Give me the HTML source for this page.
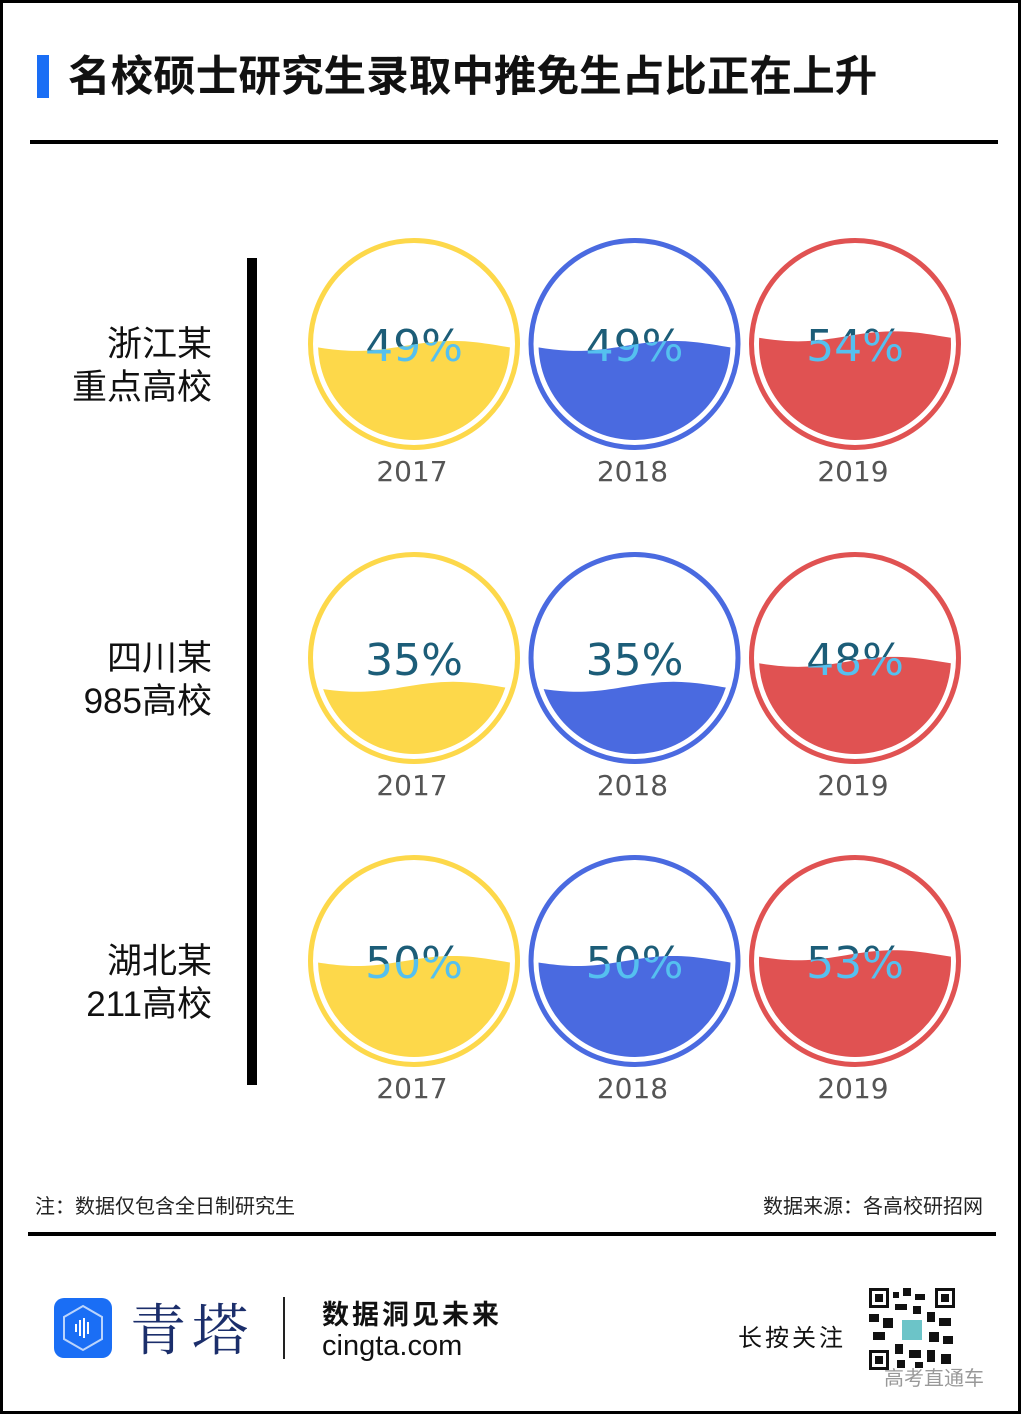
<!DOCTYPE html>
<html><head><meta charset="utf-8"><style>
html,body{margin:0;padding:0;background:#fff}
body{width:1021px;height:1414px;position:relative;overflow:hidden;font-family:"Liberation Sans","Noto Sans CJK SC",sans-serif}
.abs{position:absolute}
</style></head><body>
<div class="abs" style="left:0;top:0;width:1015px;height:1408px;border:3px solid #000"></div>
<div class="abs" style="left:37px;top:55px;width:12px;height:43px;background:#1a6ef5"></div>
<div class="abs" style="left:68px;top:49px;font-size:42.6px;font-weight:bold;color:#111;white-space:nowrap;line-height:56px">名校硕士研究生录取中推免生占比正在上升</div>
<div class="abs" style="left:30px;top:140px;width:968px;height:4px;background:#000"></div>
<svg class="abs" id="chart" style="left:0;top:0" width="1021" height="1180"></svg>
<div class="abs" style="left:35px;top:1190px;font-size:20px;color:#222">注：数据仅包含全日制研究生</div>
<div class="abs" style="right:38px;top:1190px;font-size:20px;color:#222">数据来源：各高校研招网</div>
<div class="abs" style="left:28px;top:1232px;width:968px;height:4px;background:#000"></div>
<div class="abs" style="left:54px;top:1298px;width:58px;height:60px;border-radius:10px;background:#1a6ef5">
<svg width="58" height="60"><polygon points="29,8 48,19 48,41 29,52 10,41 10,19" fill="none" stroke="#fff" stroke-opacity=".7" stroke-width="2"/><g stroke="#fff" stroke-width="2"><line x1="22" y1="26" x2="22" y2="34"/><line x1="26" y1="22" x2="26" y2="38"/><line x1="30" y1="20" x2="30" y2="40"/><line x1="34" y1="24" x2="34" y2="36"/></g></svg></div>
<div class="abs" style="left:130px;top:1292px;font-size:56px;color:#1b2e6b;font-family:'Noto Serif CJK SC',serif;letter-spacing:6px;line-height:70px">青塔</div>
<div class="abs" style="left:283px;top:1297px;width:2px;height:62px;background:#222"></div>
<div class="abs" style="left:322px;top:1293px;font-size:27px;font-weight:bold;color:#111;letter-spacing:3px">数据洞见未来</div>
<div class="abs" style="left:322px;top:1330px;font-size:29px;color:#111">cingta.com</div>
<div class="abs" style="left:738px;top:1318px;font-size:24px;color:#111;letter-spacing:3px">长按关注</div>
<svg class="abs" style="left:869px;top:1288px" width="86" height="82">
<rect width="86" height="82" fill="#fff"/>
<g fill="#111">
<rect x="0" y="0" width="20" height="20"/><rect x="66" y="0" width="20" height="20"/><rect x="0" y="62" width="20" height="20"/>
<rect x="24" y="4" width="6" height="6"/><rect x="34" y="0" width="8" height="8"/><rect x="46" y="6" width="10" height="6"/><rect x="26" y="16" width="12" height="6"/><rect x="44" y="18" width="8" height="8"/><rect x="58" y="24" width="8" height="10"/><rect x="0" y="26" width="10" height="8"/><rect x="14" y="30" width="10" height="10"/><rect x="70" y="30" width="12" height="8"/><rect x="4" y="44" width="12" height="8"/><rect x="60" y="44" width="10" height="10"/><rect x="74" y="48" width="10" height="8"/><rect x="26" y="56" width="8" height="10"/><rect x="40" y="62" width="12" height="8"/><rect x="58" y="62" width="8" height="12"/><rect x="72" y="66" width="10" height="10"/><rect x="28" y="72" width="8" height="8"/><rect x="46" y="74" width="8" height="6"/>
</g>
<g fill="#fff"><rect x="3" y="3" width="14" height="14"/><rect x="69" y="3" width="14" height="14"/><rect x="3" y="65" width="14" height="14"/></g>
<g fill="#111"><rect x="6" y="6" width="8" height="8"/><rect x="72" y="6" width="8" height="8"/><rect x="6" y="68" width="8" height="8"/></g>
<rect x="33" y="32" width="20" height="20" fill="#6cc4c8"/>
</svg>
<div class="abs" style="left:884px;top:1362px;font-size:20px;color:#999">高考直通车</div>
<script>
const rows = ["浙江某\n重点高校","四川某\n985高校","湖北某\n211高校"];
const years = ["2017","2018","2019"];
const values = [[49,49,54],[35,35,48],[50,50,53]];
const colors = ["#fdd84a","#4a6ae0","#e05252"];
const NS="http://www.w3.org/2000/svg";
const svg=document.getElementById('chart');
const colX = i => 414 + i*220.5;
const rowY = j => [344,658,961][j];
const R=106, r=96;
const levelY = (cy,p) => cy + r*(1 - 2*p/100);
function mk(t,a){const e=document.createElementNS(NS,t);for(const k in a)e.setAttribute(k,a[k]);svg.appendChild(e);return e;}
const axis=mk('rect',{x:247,y:258,width:10,height:827,fill:'#000'});


const defs=mk('defs',{});
rows.forEach((lab,j)=>{
  const lines=lab.split('\n');
  lines.forEach((ln,k)=>{
    const t=mk('text',{x:212,y:rowY(j)+12+k*43,'text-anchor':'end','font-size':35,fill:'#111'});
    t.textContent=ln;
    
    
  });
  years.forEach((yr,i)=>{
    const cx=colX(i), cy=rowY(j), v=values[j][i], col=colors[i];
    const ly=levelY(cy,v);
    const id='c'+j+'_'+i;
    const cp=document.createElementNS(NS,'clipPath');cp.setAttribute('id',id);
    let d='M'+(cx-r-5)+','+ly;
    for(let x=-r-5;x<=r+5;x+=4){d+=' L'+(cx+x)+','+(ly+5*Math.sin((x+r)/(2*r)*2*Math.PI+0.3));}
    d+=' L'+(cx+r+5)+','+(cy+r+5)+' L'+(cx-r-5)+','+(cy+r+5)+' Z';
    const p=document.createElementNS(NS,'path');p.setAttribute('d',d);cp.appendChild(p);defs.appendChild(cp);
    const ring=mk('circle',{cx:cx,cy:cy,r:R-2.5,fill:'none',stroke:col,'stroke-width':5});
    
    
    const t1=mk('text',{x:cx,y:cy+17,'text-anchor':'middle','font-size':44,fill:'#1c5d78','font-family':'DejaVu Sans, sans-serif'});
    t1.textContent=v+'%';
    
    
    const g=mk('g',{'clip-path':'url(#'+id+')'});
    const fill=document.createElementNS(NS,'circle');
    fill.setAttribute('cx',cx);fill.setAttribute('cy',cy);fill.setAttribute('r',r);fill.setAttribute('fill',col);
    
    
    g.appendChild(fill);
    const t2=t1.cloneNode(true);t2.setAttribute('fill','#55c0ef');
    
    g.appendChild(t2);
    const yl=mk('text',{x:cx-2,y:cy+137,'text-anchor':'middle','font-size':28,fill:'#555','font-family':'DejaVu Sans, sans-serif'});
    yl.textContent=yr;
    
    
  });
});
</script>
</body></html>
